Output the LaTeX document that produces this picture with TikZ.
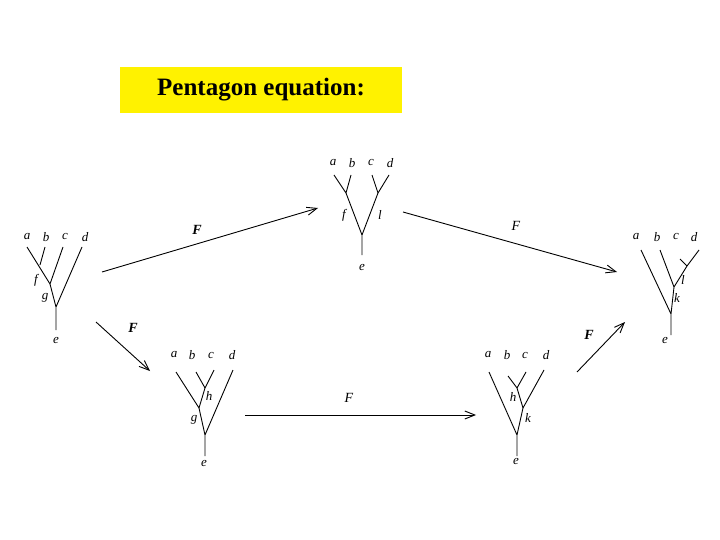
\documentclass[tikz,border=0pt]{standalone}
\usepackage{fontspec}
\setmainfont{Liberation Serif}
\usetikzlibrary{arrows.meta}
\begin{document}
\begin{tikzpicture}[x=1pt,y=-1pt,
  tr/.style={line width=0.9pt},
  lb/.style={font=\fontsize{13}{13}\selectfont\itshape, inner sep=0pt},
  ar/.style={line width=0.9pt,-{Straight Barb[length=10pt,width=8pt]}},
  fl/.style={font=\fontsize{14}{14}\selectfont\itshape, inner sep=0pt}]
\useasboundingbox (0,0) rectangle (720,540);
\node[fill=yellow, minimum width=282pt, minimum height=46pt, font=\fontsize{25}{25}\selectfont\bfseries] (title) at (261,90) {Pentagon equation:};
% tree 1
\foreach \n/\x in {a/27,b/46,c/65,d/85} \node[lb] (t1\n) at (\x,237) {\n};
\draw[tr] (27,247)--(50,284)--(56,307) (45,247)--(40,265) (63,247)--(50,284) (82,247)--(56,307)--(56,330);
\node[lb] (t1f) at (36,280) {f}; \node[lb] (t1g) at (45,298) {g}; \node[lb] (t1e) at (56,340) {e};
% tree 2
\foreach \n/\x in {a/333,b/352,c/371,d/390} \node[lb] (t2\n) at (\x,163) {\n};
\draw[tr] (334,175)--(346,193)--(362,235)--(362,255) (351,175)--(346,193) (372,175)--(378,193)--(362,235) (389,175)--(378,193);
\node[lb] (t2f) at (344,215) {f}; \node[lb] (t2l) at (380,215) {l}; \node[lb] (t2e) at (362,268) {e};
% tree 3
\foreach \n/\x in {a/174,b/192,c/211,d/232} \node[lb] (t3\n) at (\x,355) {\n};
\draw[tr] (176,372)--(199,408)--(205,435)--(205,456) (196,372)--(205,388)--(199,408) (214,370)--(205,388) (233,370)--(205,435);
\node[lb] (t3h) at (209,396) {h}; \node[lb] (t3g) at (194,420) {g}; \node[lb] (t3e) at (204,463) {e};
% tree 4
\foreach \n/\x in {a/488,b/507,c/525,d/546} \node[lb] (t4\n) at (\x,355) {\n};
\draw[tr] (489,372)--(517,435)--(517,456) (508,376)--(517,388)--(523,408)--(517,435) (526,372)--(517,388) (544,370)--(523,408);
\node[lb] (t4h) at (513,397) {h}; \node[lb] (t4k) at (528,418) {k}; \node[lb] (t4e) at (516,461) {e};
% tree 5
\foreach \n/\x in {a/636,b/657,c/676,d/694} \node[lb] (t5\n) at (\x,237) {\n};
\draw[tr] (641,250)--(671,314)--(671,335) (660,250)--(674,287)--(671,314) (680,259)--(687,266) (699,250)--(687,266)--(674,287);
\node[lb] (t5l) at (683,280) {l}; \node[lb] (t5k) at (677,298) {k}; \node[lb] (t5e) at (665,340) {e};
% arrows
\coordinate (p1) at (102,272); \coordinate (q1) at (318,208);
\coordinate (p2) at (403,212); \coordinate (q2) at (617,272);
\coordinate (p3) at (96,322); \coordinate (q3) at (150,371);
\coordinate (p4) at (245,415); \coordinate (q4) at (476,415);
\coordinate (p5) at (577,372); \coordinate (q5) at (625,322);
\draw[ar] (p1)--(q1); \draw[ar] (p2)--(q2); \draw[ar] (p3)--(q3); \draw[ar] (p4)--(q4); \draw[ar] (p5)--(q5);
\node[fl,font=\fontsize{14}{14}\selectfont\bfseries\itshape] (F1) at (197,230) {F};
\node[fl] (F2) at (516,226) {F};
\node[fl,font=\fontsize{14}{14}\selectfont\bfseries\itshape] (F3) at (133,328) {F};
\node[fl] (F4) at (349,398) {F};
\node[fl,font=\fontsize{14}{14}\selectfont\bfseries\itshape] (F5) at (589,335) {F};
\end{tikzpicture}
\end{document}
